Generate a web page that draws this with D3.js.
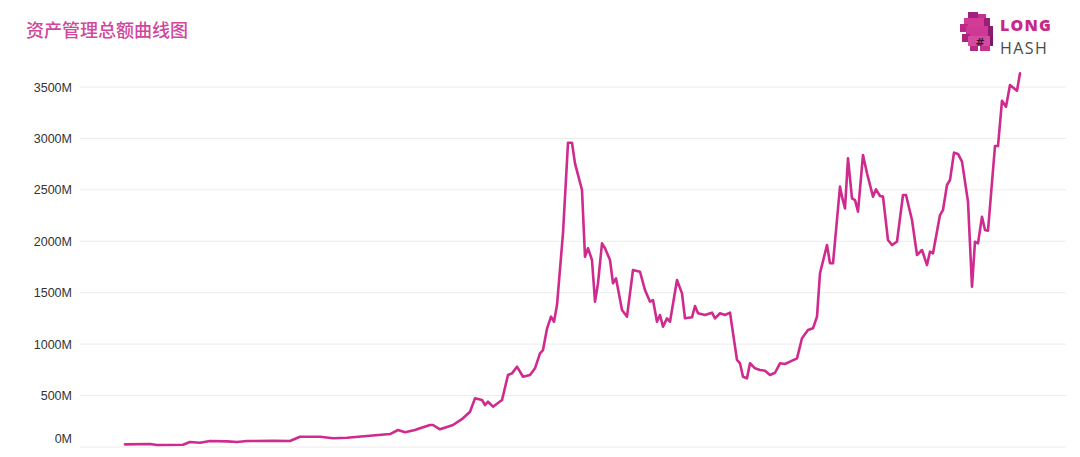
<!DOCTYPE html>
<html>
<head>
<meta charset="utf-8">
<script src="https://cdn.jsdelivr.net/npm/d3@7"></script>
<style>
  html, body { margin: 0; padding: 0; background: #fff; }
  svg { display: block; }
</style>
</head>
<body>
<svg id="chart" width="1080" height="457"></svg>
<script>
// ---- data ----
const title = "资产管理总额曲线图";
const yTicks = [0, 500, 1000, 1500, 2000, 2500, 3000, 3500];
const yTickLabels = ["0M", "500M", "1000M", "1500M", "2000M", "2500M", "3000M", "3500M"];
// time index (relative period units) and total AUM in millions
const period = [0, 25, 32, 58, 65, 75, 85, 102, 112, 122, 148, 165, 175, 195, 208, 222, 242, 265, 273, 280, 290, 295, 305, 308, 315, 325,
  328, 338, 345, 350, 357, 360, 363, 368, 377, 383, 387, 392, 398, 405, 410, 415, 418, 422, 426, 429, 432, 438, 443, 447, 450, 457,
  460, 463, 467, 470, 473, 477, 480, 485, 488, 491, 497, 502, 508, 515, 520, 525, 528, 532, 535, 538, 542, 545, 552, 557, 560, 567,
  570, 573, 580, 587, 590, 595, 600, 605, 612, 615, 618, 622, 625, 630, 635, 640, 645, 650, 655, 660, 665, 672, 677, 683, 688, 692,
  695, 702, 705, 708, 715, 717, 720, 723, 727, 730, 733, 738, 742, 748, 751, 755, 758, 763, 767, 772, 778, 781, 787, 792, 797, 802,
  805, 808, 815, 818, 822, 825, 829, 833, 837, 843, 847, 850, 853, 857, 860, 863, 870, 873, 877, 881, 885, 892, 895];
const aum = [26, 29, 19, 22, 49, 42, 58, 55, 48, 58, 61, 58, 100, 100, 85, 90, 107, 126, 165, 143, 165, 182, 214, 214, 172, 204,
  214, 279, 343, 473, 457, 408, 440, 392, 457, 700, 716, 781, 683, 700, 765, 911, 943, 1150, 1267, 1218, 1380, 2080, 2958, 2958, 2758, 2499,
  1850, 1932, 1818, 1413, 1592, 1980, 1932, 1818, 1592, 1640, 1332, 1267, 1721, 1704, 1526, 1413, 1429, 1218, 1283, 1170, 1251, 1218, 1624, 1494, 1251, 1261,
  1371, 1300, 1283, 1306, 1251, 1300, 1283, 1306, 846, 814, 683, 668, 814, 765, 749, 742, 700, 722, 814, 807, 830, 862, 1057, 1137,
  1154, 1267, 1689, 1964, 1786, 1786, 2531, 2434, 2320, 2807, 2418, 2401, 2288, 2839, 2661, 2434, 2505, 2440, 2434, 2012, 1964, 1996,
  2450, 2450, 2207, 1867, 1915, 1769, 1899, 1883, 2255, 2304, 2547, 2596, 2862, 2849, 2774, 2385, 1558, 1996, 1980, 2239, 2110, 2103, 2926, 2926,
  3367, 3308, 3519, 3464, 3633];

// ---- layout ----
const svg = d3.select("#chart");
const lineColor = "#cf2a8d";

const x = d3.scaleLinear().domain([0, 895]).range([125, 1020]);
const y = d3.scaleLinear().domain([0, 3500]).range([447, 87]);

// gridlines
svg.append("g")
  .selectAll("line")
  .data(yTicks)
  .join("line")
  .attr("x1", 80).attr("x2", 1066)
  .attr("y1", d => y(d)).attr("y2", d => y(d))
  .attr("stroke", "#ececec").attr("stroke-width", 1);

// y axis labels
const yAxis = d3.axisLeft(y).tickValues(yTicks).tickSize(0).tickPadding(0)
  .tickFormat((d, i) => yTickLabels[i]);
const gy = svg.append("g").attr("transform", "translate(72,0)").call(yAxis);
gy.select(".domain").remove();
gy.selectAll("text")
  .attr("font-family", "'Liberation Sans', Arial, sans-serif")
  .attr("font-size", 12.5)
  .attr("fill", "#333")
  .attr("dy", (d) => d === 0 ? "-0.4em" : "0.32em");

// line
const pts = period.map((p, i) => ({ p, v: aum[i] }));
const line = d3.line().x(d => x(d.p)).y(d => y(d.v));
svg.append("path")
  .datum(pts)
  .attr("d", line)
  .attr("fill", "none")
  .attr("stroke", lineColor)
  .attr("stroke-width", 2.6)
  .attr("stroke-linejoin", "round")
  .attr("stroke-linecap", "round");

// title
svg.append("text")
  .attr("x", 26).attr("y", 37)
  .attr("font-family", "'Noto Sans CJK SC', sans-serif")
  .attr("font-size", 18)
  .attr("font-weight", 500)
  .attr("fill", "#d0479b")
  .text(title);

// logo
const logo = svg.append("g").attr("transform", "translate(960,12)");
const px = [
  [8,0,10,6,"#a1207d"],[18,2,8,6,"#c2318f"],[4,6,20,8,"#d23c97"],[24,6,6,8,"#9b1f78"],
  [0,12,8,8,"#b82a88"],[6,14,22,10,"#cf3995"],[28,14,5,10,"#8d1c70"],
  [2,22,8,8,"#a8257f"],[8,24,22,10,"#d64a9f"],[30,24,3,10,"#7f1a68"],
  [10,34,8,5,"#b52a86"],[20,34,10,5,"#c3338f"]
];
logo.selectAll("rect").data(px).join("rect")
  .attr("x", d => d[0]).attr("y", d => d[1])
  .attr("width", d => d[2]).attr("height", d => d[3])
  .attr("fill", d => d[4]);
logo.append("text").attr("x", 20).attr("y", 34)
  .attr("font-family", "'DejaVu Sans', sans-serif").attr("font-weight", "bold")
  .attr("font-size", 11).attr("fill", "#3a1030").attr("text-anchor", "middle").text("#");
svg.append("text").attr("x", 1000).attr("y", 31)
  .attr("font-family", "'Open Sans', sans-serif").attr("font-weight", "800")
  .attr("font-size", 16).attr("fill", "#c8288a").attr("letter-spacing", "1.2").text("LONG");
svg.append("text").attr("x", 1000).attr("y", 54)
  .attr("font-family", "'Open Sans', sans-serif").attr("font-weight", "400")
  .attr("font-size", 16).attr("fill", "#4a4a4a").attr("letter-spacing", "1.4").text("HASH");
</script>
</body>
</html>
